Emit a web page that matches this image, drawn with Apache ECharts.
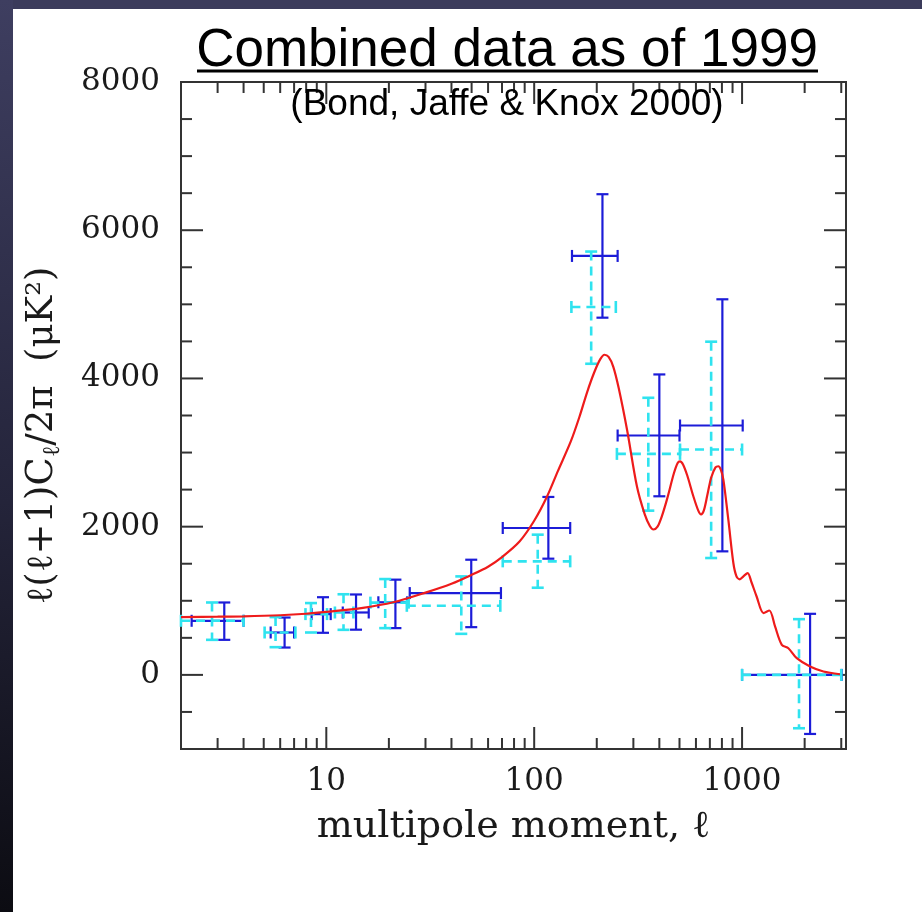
<!DOCTYPE html>
<html><head><meta charset="utf-8">
<script src="https://cdn.jsdelivr.net/npm/echarts@6/dist/echarts.min.js"></script>
<style>
html,body{margin:0;padding:0;background:#fff;}
#wrap{position:relative;width:922px;height:912px;overflow:hidden;background:#fff;}
#topbar{position:absolute;left:0;top:0;width:922px;height:9px;background:#3b3b5b;}
#leftbar{position:absolute;left:0;top:0;width:13px;height:912px;background:linear-gradient(#3e3e60,#24243a 55%,#0c0c12);}
#chart{position:absolute;left:0;top:0;width:922px;height:912px;}
</style></head>
<body><div id="wrap"><div id="chart"></div><div id="topbar"></div><div id="leftbar"></div></div>
<script>
// ---- data ----
// Theory curve (red)
const curveL   = [2, 3, 4, 6, 8, 10, 15, 21, 30, 40, 50, 60, 70, 85, 100, 115, 130, 150, 165, 180, 195, 208, 218, 228, 240, 255, 280, 312, 340, 360, 375, 392, 410, 435, 470, 490, 503, 520, 545, 583, 615, 635, 655, 680, 710, 745, 769, 790, 813, 860, 908, 940, 975, 1015, 1064, 1110, 1175, 1268, 1353, 1441, 1553, 1670, 1833, 2124, 2462, 2958];
const curveVal = [780, 785, 790, 805, 825, 850, 905, 980, 1110, 1230, 1350, 1460, 1590, 1800, 2080, 2400, 2750, 3150, 3480, 3820, 4090, 4260, 4320, 4290, 4160, 3870, 3300, 2545, 2170, 2010, 1962, 2000, 2130, 2365, 2720, 2860, 2882, 2840, 2690, 2410, 2220, 2165, 2220, 2420, 2660, 2800, 2815, 2770, 2635, 2080, 1510, 1330, 1290, 1330, 1374, 1250, 1058, 834, 869, 653, 405, 360, 225, 112, 45, 9];

// Dark blue band-powers (solid error bars)
const blueL    = [3.23, 6.3, 9.64, 13.9, 21.5, 49.8, 117, 213, 400, 804, 2124];
const blueVal  = [730, 572, 820, 842, 980, 1104, 1982, 5653, 3230, 3365, 0];
const blueLo   = [473, 369, 568, 610, 631, 644, 1568, 4820, 2410, 1667, -797];
const blueHi   = [977, 774, 1048, 1085, 1285, 1554, 2401, 6486, 4054, 5068, 824];
const blueLmin = [2.25, 5.4, 8.5, 12, 17.8, 25.2, 70.6, 152, 252, 503, 1000];
const blueLmax = [4.0, 7.0, 10.5, 16, 24.5, 69.2, 149, 252, 500, 1007, 3013];

// Cyan band-powers (dashed error bars)
const cyanL    = [2.82, 5.7, 8.44, 12.1, 19.2, 44.6, 104, 188, 354, 710, 1879];
const cyanVal  = [730, 572, 820, 842, 975, 932, 1532, 4964, 2982, 3041, 0];
const cyanLo   = [473, 374, 572, 608, 631, 554, 1176, 4198, 2216, 1577, -720];
const cyanHi   = [977, 780, 969, 1088, 1293, 1329, 1892, 5712, 3739, 4496, 752];
const cyanLmin = [2.0, 5.05, 7.94, 11, 16.3, 24.4, 70.6, 151, 250, 503, 1000];
const cyanLmax = [4.0, 7.1, 10.08, 13.5, 24.9, 68.7, 149, 247, 503, 1000, 3000];

// Axis ticks
const xMajorTicks = [10, 100, 1000];
const xMinorTicks = [2, 3, 4, 5, 6, 7, 8, 9, 20, 30, 40, 50, 60, 70, 80, 90, 200, 300, 400, 500, 600, 700, 800, 900, 2000, 3000];
const yMajorTicks = [0, 2000, 4000, 6000];
const yMinorTicks = [-500, 500, 1000, 1500, 2500, 3000, 3500, 4500, 5000, 5500, 6500, 7000, 7500];
const xMin = 2, xMax = 3162, yMin = -1000, yMax = 8000;

const titleText = 'Combined data as of 1999';
const subtitleText = '(Bond, Jaffe & Knox 2000)';

// ---- chart ----
const chart = echarts.init(document.getElementById('chart'), null, {renderer: 'canvas'});
const serif = 'DejaVu Serif';
const axisColor = '#333';

function errBarRender(color, dashed) {
  return function (params, api) {
    const l = api.value(0), v = api.value(1), lo = api.value(2), hi = api.value(3), l0 = api.value(4), l1 = api.value(5);
    const top = api.coord([l, hi]), bot = api.coord([l, lo]);
    const left = api.coord([l0, v]), right = api.coord([l1, v]);
    const cap = 6;
    const main = {stroke: color, lineWidth: dashed ? 2.6 : 2.2, lineDash: dashed ? [9, 6] : null, fill: null};
    const capS = {stroke: color, lineWidth: dashed ? 2.6 : 2.2, fill: null};
    return {
      type: 'group',
      children: [
        {type: 'line', shape: {x1: top[0], y1: top[1], x2: bot[0], y2: bot[1]}, style: main},
        {type: 'line', shape: {x1: left[0], y1: left[1], x2: right[0], y2: right[1]}, style: main},
        {type: 'line', shape: {x1: top[0] - cap, y1: top[1], x2: top[0] + cap, y2: top[1]}, style: capS},
        {type: 'line', shape: {x1: bot[0] - cap, y1: bot[1], x2: bot[0] + cap, y2: bot[1]}, style: capS},
        {type: 'line', shape: {x1: left[0], y1: left[1] - cap, x2: left[0], y2: left[1] + cap}, style: capS},
        {type: 'line', shape: {x1: right[0], y1: right[1] - cap, x2: right[0], y2: right[1] + cap}, style: capS}
      ]
    };
  };
}

const xTickData = xMajorTicks.map(v => [v, yMin, 1]).concat(xMinorTicks.map(v => [v, yMin, 0]));
const yTickData = yMajorTicks.map(v => [xMin, v, 1]).concat(yMinorTicks.map(v => [xMin, v, 0]));

const option = {
  animation: false,
  backgroundColor: 'transparent',
  grid: {left: 181, top: 82, right: 76, bottom: 163, show: true, borderColor: axisColor, borderWidth: 2, backgroundColor: 'transparent', containLabel: false, outerBoundsMode: 'none'},
  xAxis: {
    type: 'log', logBase: 10, min: xMin, max: xMax,
    axisLine: {show: false}, axisTick: {show: false}, splitLine: {show: false}, minorTick: {show: false},
    axisLabel: {
      color: '#1a1a1a', fontFamily: serif, fontSize: 31, margin: 17, showMinLabel: false, showMaxLabel: false,
      formatter: function (v) {
        const lg = Math.log10(v);
        return Math.abs(lg - Math.round(lg)) < 1e-6 ? String(Math.round(Math.pow(10, Math.round(lg)))) : '';
      }
    },
    name: 'multipole moment, ℓ', nameLocation: 'middle', nameGap: 59,
    nameTextStyle: {fontFamily: serif, fontSize: 38, color: '#1a1a1a'}
  },
  yAxis: {
    type: 'value', min: yMin, max: yMax, interval: 1000,
    axisLine: {show: false}, axisTick: {show: false}, splitLine: {show: false},
    axisLabel: {
      color: '#1a1a1a', fontFamily: serif, fontSize: 31, margin: 21, showMaxLabel: true, showMinLabel: true,
      formatter: function (v) { return (Math.round(v) % 2000 === 0) ? String(Math.round(v)) : ''; }
    },
    name: '{a|ℓ(ℓ+1)C}{s|ℓ}{a|/2π  (μK²)}', nameLocation: 'middle', nameRotate: 90, nameGap: 116,
    nameTextStyle: {
      padding: [0, 40, 0, 0],
      rich: {
        a: {fontFamily: serif, fontSize: 37, color: '#1a1a1a', lineHeight: 46},
        s: {fontFamily: serif, fontSize: 24, color: '#1a1a1a', lineHeight: 24, verticalAlign: 'bottom'}
      }
    }
  },
  graphic: [
    {type: 'text', x: 507, y: 51, style: {text: titleText, textAlign: 'center', textVerticalAlign: 'middle', fontFamily: 'Liberation Sans', fontSize: 53, fill: '#000'}, z: 100},
    {type: 'line', shape: {x1: 197, y1: 71, x2: 818, y2: 71}, style: {stroke: '#000', lineWidth: 3}, z: 100},
    {type: 'text', x: 507, y: 105, style: {text: subtitleText, textAlign: 'center', textVerticalAlign: 'middle', fontFamily: 'Liberation Sans', fontSize: 37, fill: '#000'}, z: 100}
  ],
  series: [
    {
      name: 'xticks', type: 'custom', clip: false, silent: true, z: 3,
      data: xTickData,
      renderItem: function (params, api) {
        const v = api.value(0), major = api.value(2) === 1;
        const b = api.coord([v, yMin]), t = api.coord([v, yMax]);
        const len = major ? 22 : 11;
        const s = {stroke: axisColor, lineWidth: 2};
        return {type: 'group', children: [
          {type: 'line', shape: {x1: b[0], y1: b[1], x2: b[0], y2: b[1] - len}, style: s},
          {type: 'line', shape: {x1: t[0], y1: t[1], x2: t[0], y2: t[1] + len}, style: s}
        ]};
      }
    },
    {
      name: 'yticks', type: 'custom', clip: false, silent: true, z: 3,
      data: yTickData,
      renderItem: function (params, api) {
        const v = api.value(1), major = api.value(2) === 1;
        const l = api.coord([xMin, v]), r = api.coord([xMax, v]);
        const len = major ? 22 : 11;
        const s = {stroke: axisColor, lineWidth: 2};
        return {type: 'group', children: [
          {type: 'line', shape: {x1: l[0], y1: l[1], x2: l[0] + len, y2: l[1]}, style: s},
          {type: 'line', shape: {x1: r[0], y1: r[1], x2: r[0] - len, y2: r[1]}, style: s}
        ]};
      }
    },
    {
      name: 'blue', type: 'custom', clip: false, z: 4,
      encode: {x: [0, 4, 5], y: [1, 2, 3]},
      data: blueL.map((l, i) => [l, blueVal[i], blueLo[i], blueHi[i], blueLmin[i], blueLmax[i]]),
      renderItem: errBarRender('#1c1cd8', false)
    },
    {
      name: 'cyan', type: 'custom', clip: false, z: 5,
      encode: {x: [0, 4, 5], y: [1, 2, 3]},
      data: cyanL.map((l, i) => [l, cyanVal[i], cyanLo[i], cyanHi[i], cyanLmin[i], cyanLmax[i]]),
      renderItem: errBarRender('#2fe3ef', true)
    },
    {
      name: 'theory', type: 'line', z: 6, showSymbol: false, smooth: 0.3, silent: true,
      lineStyle: {color: '#ee1b1b', width: 2.2},
      data: curveL.map((l, i) => [l, curveVal[i]])
    }
  ]
};
chart.setOption(option);
</script></body></html>
